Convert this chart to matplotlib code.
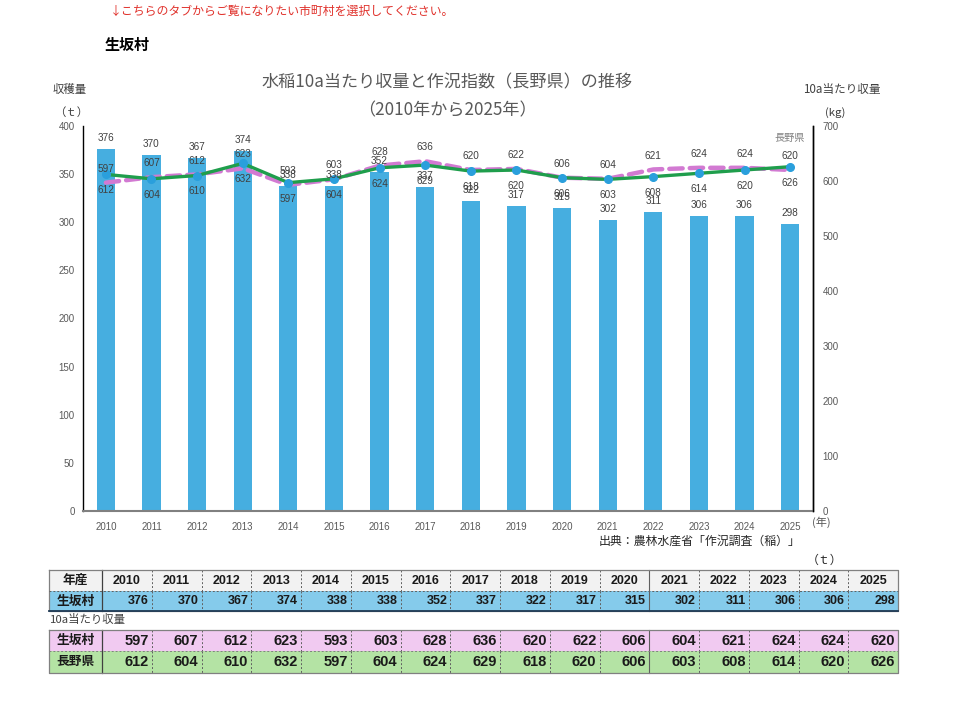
import matplotlib
matplotlib.use("Agg")
import matplotlib.pyplot as plt
from matplotlib.patches import Rectangle
import numpy as np

plt.rcParams['font.family'] = ['Noto Sans CJK JP', 'DejaVu Sans']

years = [2010, 2011, 2012, 2013, 2014, 2015, 2016, 2017, 2018, 2019, 2020, 2021, 2022, 2023, 2024, 2025]
harvest_village = [376, 370, 367, 374, 338, 338, 352, 337, 322, 317, 315, 302, 311, 306, 306, 298]
yield_village = [597, 607, 612, 623, 593, 603, 628, 636, 620, 622, 606, 604, 621, 624, 624, 620]
yield_pref = [612, 604, 610, 632, 597, 604, 624, 629, 618, 620, 606, 603, 608, 614, 620, 626]
village_name = "生坂村"
pref_name = "長野県"

W, H = 960, 701
fig = plt.figure(figsize=(W / 100, H / 100), dpi=100)

def fx(px):
    return px / W

def fy(py):
    return 1 - py / H

# main axes (pixels: x 83..813, y 126..511)
ax = fig.add_axes([fx(83), fy(511), (813 - 83) / W, (511 - 126) / H])
x = np.arange(len(years))
bar_color = '#46aee0'
bars = ax.bar(x, harvest_village, width=0.4, color=bar_color, zorder=2)
ax.set_xlim(-0.5, len(years) - 0.5)
ax.set_ylim(0, 400)
ax.set_yticks(np.arange(0, 401, 50))
ax.set_xticks(x)
ax.set_xticklabels([str(y) for y in years], fontsize=7, color='#595959', family=['Liberation Sans Narrow', 'Liberation Sans', 'DejaVu Sans'])
ax.tick_params(axis='both', length=0, labelsize=7, colors='#595959')
ax.tick_params(axis='x', pad=8)
ax.tick_params(axis='y', pad=6)
for lab in ax.get_yticklabels():
    lab.set_family(['Liberation Sans', 'DejaVu Sans'])
ax.spines['top'].set_visible(False)
ax.spines['left'].set_color('#000000')
ax.spines['left'].set_linewidth(1.0)
ax.spines['right'].set_color('#000000')
ax.spines['right'].set_linewidth(1.0)
ax.spines['bottom'].set_color('#808080')
ax.spines['bottom'].set_linewidth(1.5)

ax2 = ax.twinx()
ax2.set_ylim(0, 700)
ax2.set_yticks(np.arange(0, 701, 100))
ax2.tick_params(axis='y', length=0, labelsize=7, colors='#595959', pad=7)
for lab in ax2.get_yticklabels():
    lab.set_family(['Liberation Sans', 'DejaVu Sans'])
for s in ['top', 'left', 'bottom']:
    ax2.spines[s].set_visible(False)
ax2.spines['right'].set_color('#000000')
ax2.spines['right'].set_linewidth(1.0)

ax2.plot(x, yield_village, color='#d27ad2', lw=3.2, ls=(0, (3, 1.6)), solid_capstyle='round',
         dash_capstyle='round', zorder=3)
ax2.plot(x, yield_pref, color='#1f9e4c', lw=2.4, zorder=4)
ax2.plot(x, yield_pref, ls='none', marker='o', ms=5.5, color='#2a9fdc', zorder=5)

lab_kw = dict(fontsize=7.2, color='#404040', ha='center', va='center',
              family=['Liberation Sans', 'DejaVu Sans'], zorder=6)
# bar labels converted to right axis scale for drawing on top
for xi, v in zip(x, harvest_village):
    ax2.annotate(str(v), (xi, v * 700 / 400), xytext=(0, 8), textcoords='offset points', **lab_kw)
for xi, v in zip(x, yield_village):
    ax2.annotate(str(v), (xi, v), xytext=(0, 10), textcoords='offset points', **lab_kw)
for xi, v in zip(x, yield_pref):
    ax2.annotate(str(v), (xi, v), xytext=(0, -11.5), textcoords='offset points', **lab_kw)

# texts
fig.text(fx(110), fy(11), "↓こちらのタブからご覧になりたい市町村を選択してください。", fontsize=8.6,
         color='#e0302a', va='center', ha='left')
fig.text(fx(105), fy(45), village_name, fontsize=10.8, fontweight='bold', color='#000000', va='center', ha='left')
fig.text(fx(447), fy(82), "水稲10a当たり収量と作況指数（長野県）の推移", fontsize=12.3, color='#595959',
         va='center', ha='center')
fig.text(fx(447), fy(110), "（2010年から2025年）", fontsize=12.3, color='#595959', va='center', ha='center')
fig.text(fx(70), fy(90), "収穫量", fontsize=8.2, color='#404040', va='center', ha='center')
fig.text(fx(71), fy(112), "（ｔ）", fontsize=8.2, color='#404040', va='center', ha='center')
fig.text(fx(842), fy(90), "10a当たり収量", fontsize=8.4, color='#404040', va='center', ha='center')
fig.text(fx(835), fy(113), "(kg)", fontsize=8.2, color='#404040', va='center', ha='center')
fig.text(fx(805), fy(138), pref_name, fontsize=7.3, color='#7f7f7f', va='center', ha='right')
fig.text(fx(812), fy(522), "(年)", fontsize=8, color='#595959', va='center', ha='left')
fig.text(fx(801), fy(541), "出典：農林水産省「作況調査（稲）」", fontsize=8.6, color='#262626', va='center', ha='right')
fig.text(fx(825), fy(560), "（ｔ）", fontsize=8.6, color='#262626', va='center', ha='center')

# table overlay axes in pixel coordinates
tab = fig.add_axes([0, 0, 1, 1])
tab.set_xlim(0, W)
tab.set_ylim(H, 0)
tab.axis('off')
tab.patch.set_alpha(0)

x0, x1 = 49, 102
cw = (898 - 102) / len(years)
rows = [
    (570, 591, '#f2f2f2', '年産', [str(y) for y in years], 'center', 9),
    (591, 611, '#85cbeb', village_name, [str(v) for v in harvest_village], 'right', 9),
    (630, 651, '#f1caf1', village_name, [str(v) for v in yield_village], 'right', 10.5),
    (651, 673, '#b4e3a4', pref_name, [str(v) for v in yield_pref], 'right', 10.5),
]
for (ya, yb, col, head, vals, ha, fs) in rows:
    tab.add_patch(Rectangle((x0, ya), 898 - x0, yb - ya, facecolor=col, edgecolor='none'))
    tab.text((x0 + x1) / 2, (ya + yb) / 2, head, fontsize=9.2, fontweight='bold', ha='center', va='center',
             color='#1a1a1a')
    for i, v in enumerate(vals):
        cx0 = x1 + i * cw
        if ha == 'center':
            tab.text(cx0 + cw / 2, (ya + yb) / 2, v, fontsize=fs, fontweight='bold', ha='center', va='center',
                     color='#1a1a1a', family=['Liberation Sans', 'DejaVu Sans'])
        else:
            tab.text(cx0 + cw - 3, (ya + yb) / 2 + 0.5, v, fontsize=fs, fontweight='bold', ha='right',
                     va='center', color='#1a1a1a', family=['Liberation Sans', 'DejaVu Sans'])
    # vertical separators
    for i in range(1, len(years)):
        xx = x1 + i * cw
        if i == 11:
            tab.plot([xx, xx], [ya, yb], color='#606060', lw=0.8)
        else:
            tab.plot([xx, xx], [ya, yb], color='#606060', lw=0.7, ls=(0, (2, 2)))
    tab.plot([x1, x1], [ya, yb], color='#404040', lw=0.9)

# outer borders
tab.plot([x0, 898, 898, x0, x0], [570, 570, 611, 611, 570], color='#808080', lw=0.9)
tab.plot([x0, 898], [591, 591], color='#606060', lw=0.7, ls=(0, (2, 2)))
tab.plot([x0, 898], [611, 611], color='#1f3a55', lw=1.3)
tab.plot([x0, 898, 898, x0, x0], [630, 630, 673, 673, 630], color='#808080', lw=0.9)
tab.plot([x0, 898], [651, 651], color='#808080', lw=0.7, ls=(0, (2, 2)))
tab.text(50, 619, "10a当たり収量", fontsize=8.2, color='#404040', ha='left', va='center')

fig.savefig("out.png", dpi=100)
